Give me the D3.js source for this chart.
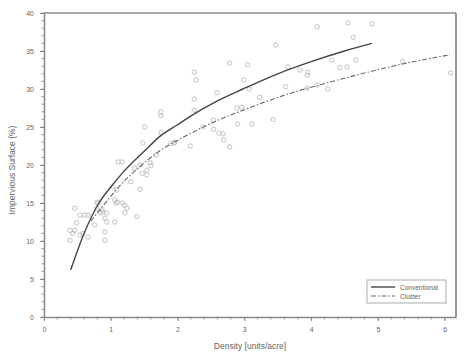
<!DOCTYPE html>
<html>
<head>
<meta charset="utf-8">
<script src="https://cdn.jsdelivr.net/npm/d3@7"></script>
<style>
  body { margin: 0; background: #fff; }
  text { font-family: "Liberation Sans", Arial, sans-serif; fill: #666; }
</style>
</head>
<body>
<div id="chart"></div>
<script>
//Observed points (density, impervious %)
var pointsX = [4.55, 4.91, 4.09, 3.47, 4.63, 2.78, 3.05, 2.25, 2.28, 2.99, 2.59, 3.07, 2.25, 3.23, 1.75, 1.75,
  2.25, 2.89, 2.96, 3.43, 2.54, 2.90, 3.11, 2.54, 2.62, 2.68, 1.95, 1.90, 2.19, 2.69, 2.78, 1.68, 1.59,
  4.31, 4.67, 4.43, 4.54, 5.37, 4.25, 6.09, 3.95, 3.65, 3.83, 3.94, 3.62, 4.09, 3.94,
  1.51, 1.75, 1.48, 1.96, 1.17, 1.60, 1.54, 1.54, 1.36, 2.38,
  1.11, 1.44, 1.47, 1.30, 1.03, 1.09, 1.44, 1.06, 1.10, 1.08, 1.21, 1.24, 0.79, 0.81, 0.79, 0.87, 0.84, 0.88,
  0.91, 0.94, 0.46, 0.61, 0.66, 0.54, 0.49, 0.76, 0.39, 0.46, 0.43, 0.54, 0.58, 0.39, 0.66, 0.91, 0.91,
  1.39, 1.06, 1.21, 1.18, 0.94];
var pointsY = [38.7, 38.6, 38.2, 35.8, 36.8, 33.4, 33.2, 32.2, 31.2, 31.2, 29.5, 30.0, 28.7, 28.9, 27.0, 26.5,
  27.2, 27.5, 27.6, 26.0, 25.9, 25.4, 25.4, 24.7, 24.2, 24.1, 22.9, 22.8, 22.5, 23.3, 22.4, 21.3, 20.3,
  33.8, 33.8, 32.8, 32.9, 33.6, 30.0, 32.1, 32.2, 32.9, 32.5, 31.8, 30.3, 30.5, 30.1,
  25.0, 24.3, 22.9, 23.0, 20.4, 19.9, 19.3, 18.7, 19.6, 25.0,
  20.4, 20.0, 18.9, 17.8, 17.1, 16.7, 16.8, 15.4, 15.1, 15.0, 14.7, 14.3, 15.1, 15.0, 14.3, 14.1, 13.7, 13.8,
  13.0, 12.5, 14.3, 13.4, 13.4, 13.4, 12.4, 12.1, 11.4, 11.4, 11.0, 10.8, 11.0, 10.1, 10.5, 11.2, 10.1,
  13.2, 12.5, 13.7, 15.0, 13.7];

//Fitted curves
var convX = [0.40, 0.60, 0.81, 1.00, 1.17, 1.50, 1.74, 2.00, 2.19, 2.59, 2.98, 3.50, 4.00, 4.50, 4.91];
var convY = [6.2, 11.0, 14.8, 17.1, 18.9, 21.8, 23.8, 25.3, 26.4, 28.4, 30.0, 32.0, 33.6, 35.0, 36.0];
var clusX = [0.70, 0.90, 1.17, 1.40, 1.69, 2.14, 2.53, 2.98, 3.64, 4.28, 4.80, 5.37, 6.08];
var clusY = [12.6, 14.8, 17.6, 19.5, 21.6, 23.9, 25.6, 27.2, 29.3, 30.9, 32.1, 33.3, 34.5];

var xTicks = [0, 1, 2, 3, 4, 5, 6];
var yTicks = [0, 5, 10, 15, 20, 25, 30, 35, 40];
var seriesNames = ["Conventional", "Cluster"];

var width = 469, height = 358;
var margin = { left: 44, right: 13, top: 13, bottom: 41 };

var x = d3.scaleLinear().domain([0, 6.17]).range([margin.left, width - margin.right]);
var y = d3.scaleLinear().domain([0, 40]).range([height - margin.bottom, margin.top]);

var svg = d3.select("#chart").append("svg").attr("width", width).attr("height", height);

//frame: top and right borders
svg.append("line").attr("x1", x(0)).attr("x2", x(6.17)).attr("y1", y(40)).attr("y2", y(40))
  .attr("stroke", "#aaa").attr("stroke-width", 2);
svg.append("line").attr("x1", x(6.17)).attr("x2", x(6.17)).attr("y1", y(40)).attr("y2", y(0))
  .attr("stroke", "#777").attr("stroke-width", 1.5);

//minor ticks
var minorX = d3.range(0, 6.01, 0.2);
var minorY = d3.range(0, 40.01, 1);
svg.append("g").selectAll("line").data(minorX).enter().append("line")
  .attr("x1", function (d) { return x(d); }).attr("x2", function (d) { return x(d); })
  .attr("y1", y(0)).attr("y2", y(0) + 2.5).attr("stroke", "#999");
svg.append("g").selectAll("line").data(minorY).enter().append("line")
  .attr("y1", function (d) { return y(d); }).attr("y2", function (d) { return y(d); })
  .attr("x1", x(0)).attr("x2", x(0) - 2.5).attr("stroke", "#999");

//axes
var xAxis = svg.append("g").attr("transform", "translate(0," + y(0) + ")")
  .call(d3.axisBottom(x).tickValues(xTicks).tickFormat(d3.format("d"))
    .tickSize(4).tickPadding(6).tickSizeOuter(0));
var yAxis = svg.append("g").attr("transform", "translate(" + x(0) + ",0)")
  .call(d3.axisLeft(y).tickValues(yTicks).tickFormat(d3.format("d"))
    .tickSize(4).tickPadding(6).tickSizeOuter(0));
[xAxis, yAxis].forEach(function (a) {
  a.select(".domain").attr("stroke", "#888").attr("stroke-width", 1.5);
  a.selectAll(".tick line").attr("stroke", "#888");
  a.selectAll(".tick text").style("font-size", "7px").attr("fill", "#888");
});

//axis titles
svg.append("text").attr("x", (x(0) + x(6.17)) / 2).attr("y", 349)
  .attr("text-anchor", "middle").style("font-size", "8.5px").text("Density [units/acre]");
svg.append("text").attr("transform", "translate(15," + 170 + ") rotate(-90)")
  .attr("text-anchor", "middle").style("font-size", "8.5px").text("Impervious Surface (%)");

//points
svg.append("g").selectAll("rect").data(d3.range(pointsX.length)).enter().append("rect")
  .attr("x", function (i) { return x(pointsX[i]) - 2; })
  .attr("y", function (i) { return y(pointsY[i]) - 2; })
  .attr("width", 4).attr("height", 4).attr("rx", 1.2)
  .attr("fill", "none").attr("stroke", "#bbb").attr("stroke-width", 0.9);

//curves
var line = d3.line()
  .x(function (d) { return x(d[0]); })
  .y(function (d) { return y(d[1]); })
  .curve(d3.curveMonotoneX);
svg.append("path").datum(d3.zip(convX, convY)).attr("d", line)
  .attr("fill", "none").attr("stroke", "#444").attr("stroke-width", 1.4);
svg.append("path").datum(d3.zip(clusX, clusY)).attr("d", line)
  .attr("fill", "none").attr("stroke", "#666").attr("stroke-width", 1.1)
  .attr("stroke-dasharray", "5,2,1.5,2");

//legend
var legend = svg.append("g").attr("transform", "translate(367,280)");
legend.append("rect").attr("width", 79).attr("height", 23)
  .attr("fill", "#fff").attr("stroke", "#999").attr("stroke-width", 0.8);
var styles = [{ c: "#444", w: 1.4, dash: null }, { c: "#666", w: 1.1, dash: "5,2,1.5,2" }];
seriesNames.forEach(function (name, i) {
  legend.append("line").attr("x1", 4).attr("x2", 28).attr("y1", 7 + i * 9).attr("y2", 7 + i * 9)
    .attr("stroke", styles[i].c).attr("stroke-width", styles[i].w)
    .attr("stroke-dasharray", styles[i].dash);
  legend.append("text").attr("x", 33).attr("y", 9.5 + i * 9)
    .style("font-size", "6.5px").text(name);
});
</script>
</body>
</html>
